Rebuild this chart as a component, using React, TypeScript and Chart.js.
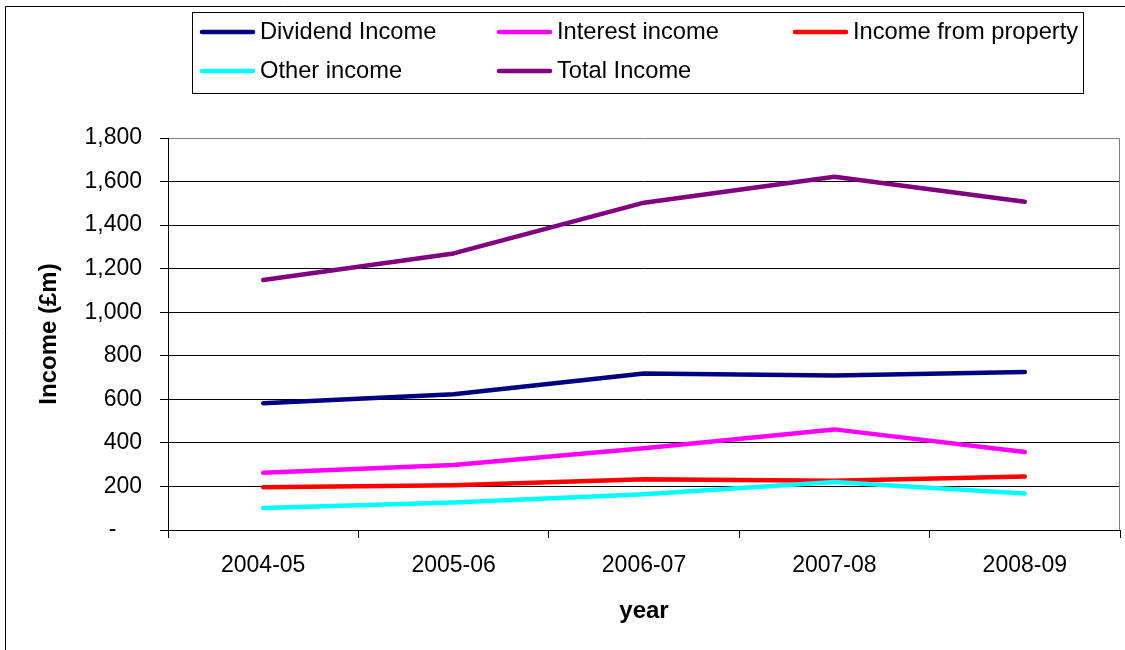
import React, { useEffect, useRef } from "react";
import { Chart, registerables } from "chart.js";

Chart.register(...registerables);

const years = ["2004-05", "2005-06", "2006-07", "2007-08", "2008-09"];
const dividendIncome = [582, 623, 719, 710, 725];
const interestIncome = [263, 298, 375, 462, 358];
const propertyIncome = [196, 205, 233, 226, 246];
const otherIncome = [101, 126, 164, 220, 168];
const totalIncome = [1148, 1270, 1503, 1622, 1507];

const seriesNames = ["Dividend Income", "Interest income", "Income from property", "Other income", "Total Income"];
const seriesColors = ["#000080", "#FF00FF", "#FF0000", "#00FFFF", "#800080"];
const seriesValues = [dividendIncome, interestIncome, propertyIncome, otherIncome, totalIncome];

const FONT = "Arial, 'Liberation Sans', sans-serif";

const decorPlugin = {
  id: "decor",
  beforeDraw(chart: any) {
    const ctx = chart.ctx;
    ctx.save();
    ctx.fillStyle = "#ffffff";
    ctx.fillRect(0, 0, chart.width, chart.height);
    // outer border (left + top)
    ctx.strokeStyle = "#000000";
    ctx.lineWidth = 1;
    ctx.beginPath();
    ctx.moveTo(5.5, chart.height);
    ctx.lineTo(5.5, 6.5);
    ctx.lineTo(chart.width, 6.5);
    ctx.stroke();
    ctx.restore();
  },
  afterDraw(chart: any) {
    const ctx = chart.ctx;
    const a = chart.chartArea;
    ctx.save();
    // right plot border
    ctx.strokeStyle = "#808080";
    ctx.lineWidth = 1;
    ctx.beginPath();
    ctx.moveTo(Math.round(a.right) - 0.5, a.top);
    ctx.lineTo(Math.round(a.right) - 0.5, a.bottom);
    ctx.stroke();
    // legend box
    ctx.strokeStyle = "#000000";
    ctx.strokeRect(192.5, 12.5, 891, 81);
    const colX = [200, 497, 793];
    const rowY = [32, 71];
    ctx.font = `23.7px ${FONT}`;
    ctx.textBaseline = "middle";
    ctx.textAlign = "left";
    seriesNames.forEach((name, i) => {
      const col = i % 3;
      const row = Math.floor(i / 3);
      const x = colX[col];
      const y = rowY[row];
      ctx.strokeStyle = seriesColors[i];
      ctx.lineWidth = 4.5;
      ctx.lineCap = "round";
      ctx.beginPath();
      ctx.moveTo(x + 2, y);
      ctx.lineTo(x + 53, y);
      ctx.stroke();
      ctx.fillStyle = "#000000";
      ctx.fillText(name, x + 60, y);
    });
    ctx.restore();
  },
};

export default function App() {
  const ref = useRef<HTMLCanvasElement>(null);
  useEffect(() => {
    document.body.style.margin = "0";
    const chart = new Chart(ref.current!, {
      type: "line",
      data: {
        labels: years,
        datasets: seriesNames.map((name, i) => ({
          label: name,
          data: seriesValues[i],
          borderColor: seriesColors[i],
          backgroundColor: seriesColors[i],
          borderWidth: 4.5,
          borderCapStyle: "round",
          borderJoinStyle: "round",
          pointRadius: 0,
          tension: 0,
          fill: false,
          order: seriesNames.length - i,
        })),
      },
      options: {
        responsive: false,
        animation: false,
        layout: { padding: { top: 138, left: 0, right: 5, bottom: 0 } },
        plugins: { legend: { display: false }, tooltip: { enabled: false } },
        scales: {
          x: {
            offset: true,
            afterFit: (s: any) => { s.height = 120; },
            grid: {
              offset: true,
              drawOnChartArea: false,
              drawTicks: true,
              tickLength: 8,
              color: "#000000",
            },
            border: { color: "#000000", width: 1 },
            ticks: { color: "#000000", font: { family: FONT, size: 23 }, padding: 14, maxRotation: 0 },
            title: {
              display: true,
              text: "year",
              color: "#000000",
              font: { family: FONT, size: 24, weight: "bold" },
              padding: { top: 0, bottom: 24 },
            },
          },
          y: {
            min: 0,
            max: 1800,
            afterFit: (s: any) => { s.width = 168; },
            grid: {
              color: (c: any) => (c.tick && c.tick.value === 1800 ? "#808080" : "#000000"),
              tickColor: "#000000",
              tickLength: 8,
            },
            border: { color: "#000000", width: 1 },
            ticks: {
              stepSize: 200,
              color: "#000000",
              font: { family: FONT, size: 23 },
              padding: 18,
              callback: (v: any) => (v === 0 ? "-    " : Number(v).toLocaleString("en-US")),
            },
            title: {
              display: true,
              text: "Income (£m)",
              color: "#000000",
              font: { family: FONT, size: 24, weight: "bold" },
              padding: { top: 35, bottom: 0 },
            },
          },
        },
      },
      plugins: [decorPlugin],
    } as any);
    return () => chart.destroy();
  }, []);
  return <canvas ref={ref} width={1125} height={650} style={{ display: "block" }} />;
}
